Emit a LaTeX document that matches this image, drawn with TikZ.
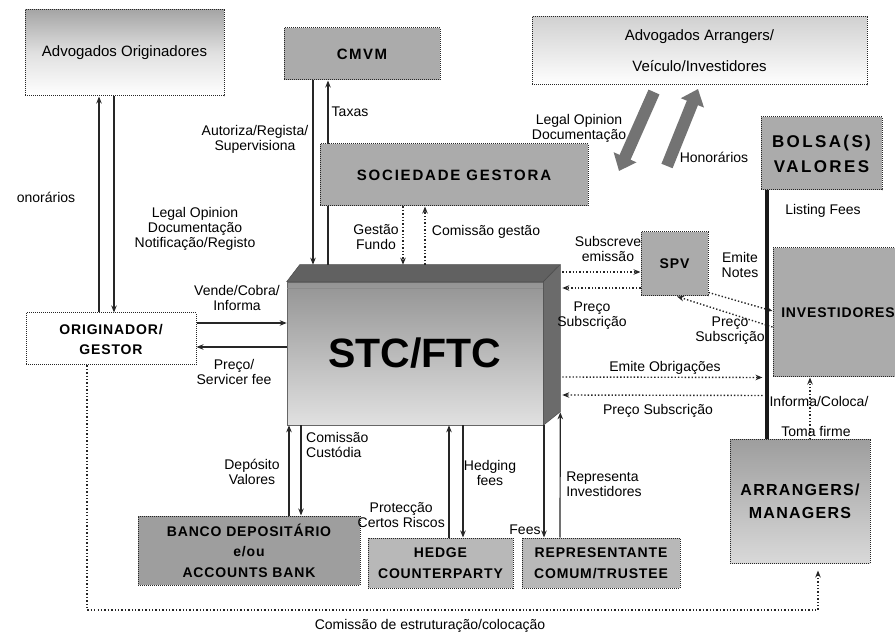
\documentclass[tikz,border=0pt]{standalone}
\usepackage{fontspec}
\setmainfont{Liberation Sans}
\newfontfamily\boxfont[LetterSpace=6]{Liberation Sans}
\usetikzlibrary{arrows.meta,calc}
\begin{document}
\begin{tikzpicture}[x=1pt,y=-1pt,
  box/.style={draw=black!85, densely dotted, line width=1pt, inner sep=0pt, align=center,
    font=\boxfont\bfseries\fontsize{14}{20}\selectfont},
  gbox/.style={box, fill=black!33},
  lbl/.style={inner sep=0pt, align=center, font=\fontsize{14}{15}\selectfont},
  ln/.style={line width=1.2pt, draw=black!85, -{Stealth[length=7pt,width=5.5pt]}},
  dl/.style={line width=1.4pt, dash pattern=on 1.4pt off 2pt, draw=black!85, -{Stealth[length=7pt,width=5.5pt]}},
  bigarr/.style={line width=12pt, draw=black!55, -{Triangle[length=15pt,width=24pt]}}
]
\useasboundingbox (0,0) rectangle (895,636);

% boxes
\node[box, top color=black!35, bottom color=white, middle color=black!12, minimum width=199, minimum height=86,
  font=\fontsize{15}{17}\selectfont] (advo) at (124.5,53) {Advogados Originadores};
\node[gbox, minimum width=156, minimum height=52, font=\boxfont\bfseries\addfontfeature{LetterSpace=10}\fontsize{15}{17}\selectfont] (cmvm) at (362,54) {CMVM};
\node[box, top color=black!18, bottom color=white, minimum width=335, minimum height=68,
  font=\fontsize{15}{31}\selectfont] (advarr) at (699.5,51) {Advogados Arrangers/\\Veículo/Investidores};
\node[gbox, minimum width=268, minimum height=62, font=\boxfont\bfseries\addfontfeature{LetterSpace=12}\fontsize{15}{17}\selectfont] (soc) at (454,175) {SOCIEDADE GESTORA};
\node[gbox, minimum width=121, minimum height=73, font=\boxfont\bfseries\addfontfeature{LetterSpace=14}\fontsize{17}{25}\selectfont] (bolsa) at (821.5,153.5) {BOLSA(S)\\VALORES};
\node[gbox, minimum width=67, minimum height=64] (spv) at (674.5,264) {SPV};
\node[gbox, minimum width=130, minimum height=129] (inv) at (838,312.5) {INVESTIDORES};
\node[box, fill=white, minimum width=170, minimum height=52] (orig) at (111,339) {ORIGINADOR/\\GESTOR};
\node[gbox, fill=black!38, minimum width=222, minimum height=69, font=\boxfont\bfseries\fontsize{14}{20.5}\selectfont] (banco) at (249,550.5) {BANCO DEPOSITÁRIO\\e/ou\\ACCOUNTS BANK};
\node[gbox, fill=black!28, minimum width=145, minimum height=50, font=\boxfont\bfseries\fontsize{14}{21}\selectfont] (hedge) at (440.5,563) {HEDGE\\COUNTERPARTY};
\node[gbox, fill=black!28, minimum width=158, minimum height=50, font=\boxfont\bfseries\fontsize{14}{21}\selectfont] (rep) at (601,563) {REPRESENTANTE\\COMUM/TRUSTEE};
\node[box, top color=black!38, bottom color=black!15, minimum width=140, minimum height=123,
  font=\boxfont\bfseries\addfontfeature{LetterSpace=8}\fontsize{16}{23}\selectfont] (arr) at (800,501.5) {ARRANGERS/\\MANAGERS};

% STC/FTC 3D block
\node[draw=black!60, line width=0.6pt, top color=black!42, bottom color=black!12, minimum width=256, minimum height=143, inner sep=0pt,
  font=\bfseries\fontsize{41}{45}\selectfont] (stc) at (415,353.5) {STC/FTC};
\filldraw[fill=black!62, draw=black!70, line width=0.5pt] (stc.north west) -- ++(13,-17) -- ++(260,0) -- (stc.north east) -- cycle;
\filldraw[fill=black!58, draw=black!70, line width=0.5pt] (stc.north east) -- ++(17,-17) -- ++(0,147) -- (stc.south east) -- cycle;
\draw[black!45, line width=0.6pt] ([yshift=-7]stc.north west) -- ([yshift=-7]stc.north east);

% Advogados Originadores <-> Originador
\draw[ln] ([xshift=-12]orig.north) -- ([xshift=-25.5]advo.south);
\draw[ln] ([xshift=-10.5]advo.south) -- ([xshift=3]orig.north);
\node[lbl] (lhon) at (46,197) {onorários};
\node[lbl] (llegal) at (195,229) {Legal Opinion\\Documentação\\Notificação/Registo};

% CMVM
\draw[ln] ([xshift=-49]cmvm.south) -- ([xshift=-102,yshift=17]stc.north);
\draw[ln] ([xshift=-87,yshift=17]stc.north) -- ([xshift=-34]cmvm.south);
\node[lbl] (laut) at (255,139) {Autoriza/Regista/\\Supervisiona};
\node[lbl] (ltax) at (350,112) {Taxas};
% sociedade gestora drawn again over the Taxas line
\node[gbox, minimum width=268, minimum height=62, font=\boxfont\bfseries\addfontfeature{LetterSpace=12}\fontsize{15}{17}\selectfont] (soc2) at (soc) {SOCIEDADE GESTORA};

% Sociedade gestora <-> STC
\draw[dl] ([xshift=-51]soc.south) -- ([xshift=-12,yshift=17]stc.north);
\draw[dl] ([xshift=10,yshift=17]stc.north) -- ([xshift=-29]soc.south);
\node[lbl] (lgest) at (376,237) {Gestão\\Fundo};
\node[lbl] (lcom) at (486,232) {Comissão gestão};

% Originador <-> STC
\draw[ln] ([yshift=16]orig.east) -- ([yshift=30.5]stc.west);
\draw[ln, line width=1.7pt] ([yshift=6.5]stc.west) -- ([yshift=-8]orig.east);
\node[lbl] (lvend) at (237,298) {Vende/Cobra/\\Informa};
\node[lbl] (lprec) at (234,372) {Preço/\\Servicer fee};

% STC <-> SPV
\draw[dl] ([xshift=19,yshift=81.5]stc.east) -- ([yshift=-8]spv.west);
\draw[dl] ([yshift=-24]spv.west) -- ([xshift=19,yshift=65.5]stc.east);
\node[lbl] (lsubs) at (608,249) {Subscreve\\emissão};
\node[lbl] (lps1) at (592,316) {Preço\\Subscrição};

% SPV <-> Investidores
\draw[dl] ([yshift=4]spv.south east) -- ([yshift=1.5]inv.west);
\draw[dl] ([yshift=-14.5]inv.west) -- ([xshift=2.5]spv.south);
\node[lbl] (lemn) at (740,265) {Emite\\Notes};
\node[lbl] (lps2) at (730,331) {Preço\\Subscrição};

% STC <-> Investidores
\draw[dl] ([xshift=19,yshift=-23.5]stc.east) -- ([xshift=-10]inv.south west);
\draw[dl] ([xshift=-10,yshift=-18]inv.south west) -- ([xshift=19,yshift=-41.5]stc.east);
\node[lbl] (lemo) at (665,368) {Emite Obrigações};
\node[lbl] (lps3) at (658,411) {Preço Subscrição};

% Banco
\draw[ln] ([xshift=40]banco.north) -- ([xshift=-126]stc.south);
\draw[ln] ([xshift=-114]stc.south) -- ([xshift=52]banco.north);
\node[lbl] (ldep) at (252,472) {Depósito\\Valores};
\node[lbl, align=left, anchor=west] (lcc) at (306,445) {Comissão\\Custódia};

% Hedge
\draw[ln] ([xshift=8.5]hedge.north) -- ([xshift=34]stc.south);
\draw[ln] ([xshift=48]stc.south) -- ([xshift=22.5]hedge.north);
\node[lbl, anchor=east] (lprot) at (445,515) {Protecção\\Certos Riscos};
\node[lbl] (lhedg) at (490,473) {Hedging\\fees};

% Representante
\draw[ln] ([xshift=129]stc.south) -- ([xshift=-57]rep.north);
\draw[ln] ([xshift=-41]rep.north) -- ([xshift=17,yshift=13]stc.south east);
\node[lbl] (lfees) at (525,530) {Fees};
\node[lbl, align=left] (lrep) at (604,484) {Representa\\Investidores};

% Bolsa - Arrangers
\draw[line width=3.2pt, black!90] ([xshift=-54.5]bolsa.south) -- ([xshift=-33]arr.north);
\node[lbl] (llist) at (823,211) {Listing Fees};

% Arrangers -> Investidores
\draw[dl] ([xshift=10]arr.north) -- ([xshift=-28]inv.south);
\node[lbl] (linf) at (819,401) {Informa/Coloca/};
\node[lbl] (ltom) at (816,431) {Toma firme};

% bottom loop
\coordinate (loop) at (450,610);
\draw[dl] ([xshift=-24]orig.south) |- (loop) -| ([xshift=18,yshift=-7]arr.south);
\node[lbl] (lbot) at (430,626) {Comissão de estruturação/colocação};

% big arrows
\coordinate (ba1s) at (654,92);
\coordinate (ba1e) at (619,171);
\coordinate (ba2s) at (667,166);
\coordinate (ba2e) at (698,89);
\draw[bigarr] (ba1s) -- (ba1e);
\draw[bigarr] (ba2s) -- (ba2e);
\node[lbl] (llo2) at (579,128) {Legal Opinion\\Documentação};
\node[lbl] (lhonr) at (714,157) {Honorários};
\end{tikzpicture}
\end{document}
